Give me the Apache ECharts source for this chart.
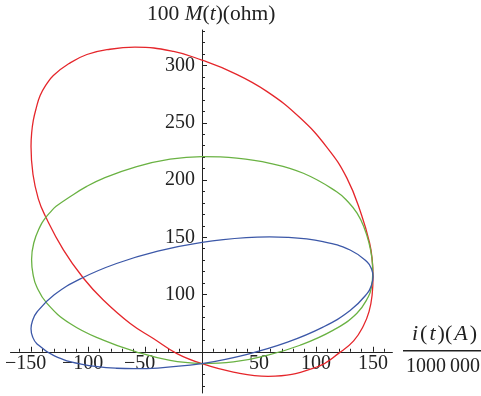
<!DOCTYPE html>
<html><head><meta charset="utf-8">
<script src="https://cdn.jsdelivr.net/npm/echarts@6/dist/echarts.min.js"></script>
<style>html,body{margin:0;padding:0;background:#fff}#c{width:481px;height:396px}</style>
</head><body><div id="c"></div>
<script>
// Loops as [i(t)/1e6, 100 M(t)] pairs
const redLoop = [[0,39.6],[27.5,32.3],[58,28.6],[100.6,36.7],[121,49.5],[133,59.5],[141.5,72.5],[146.5,85],[149.2,99.5],[150,115.6],[149.3,130],[147,145],[140,169.3],[127,201.9],[109.4,228.8],[86,254.3],[56.8,277.4],[27.5,293.6],[0,304.6],[-25,312.3],[-58.8,316],[-80.7,314.2],[-101,309.6],[-117,301.5],[-130.4,291.3],[-137,282.8],[-142,273.8],[-145.5,262.6],[-148,252],[-149.45,241],[-150,229.2],[-148.3,205],[-143.6,183.5],[-137.7,169],[-121.6,139],[-104,114.2],[-86.6,95.2],[-63,74.7],[-42.7,61.6],[-22,48.4],[0,39.6]];
const greenLoop = [[0,39.6],[27.5,41.1],[56.8,46.9],[86,55.7],[115.2,68.9],[135.7,83.5],[145.9,98.1],[148.5,106],[149.8,119],[149,132],[146.5,145],[142,159],[136,171],[128,181],[118.1,189.8],[88.9,205.9],[59.6,214.6],[30.4,219.1],[0,220.4],[-28,218.2],[-57.3,211.7],[-86.6,201.5],[-101.5,194.2],[-115.8,185.4],[-128,177],[-133,172],[-137.7,166.4],[-142,159.5],[-147.6,145],[-149.5,130.5],[-148.3,118],[-145,106.8],[-136,92.3],[-115.8,74.7],[-86.6,60.1],[-57.3,49.8],[-28,42.5],[0,39.6]];
const blueLoop = [[0,39.6],[38.8,47.6],[75,58.4],[106.1,71.5],[129.9,86.0],[144.9,101.0],[148.7,108.4],[150,115.5],[148.7,122.2],[144.9,128.4],[129.9,138.9],[106.1,146.2],[75,149.9],[59.3,150.3],[38.8,149.7],[0,145.6],[-38.8,137.9],[-75,127.1],[-106.1,114.0],[-129.9,99.5],[-144.9,84.5],[-148.7,77.1],[-150,70.0],[-148.7,63.3],[-144.9,57.1],[-129.9,46.6],[-106.1,39.3],[-75,35.6],[-59.3,35.2],[-38.8,35.8],[0,39.6]];
const xTickLabels = [-150,-100,-50,50,100,150];
const yTickLabels = [100,150,200,250,300];
const xMinorTicks = [-160,-140,-130,-120,-110,-90,-80,-70,-60,-40,-30,-20,-10,10,20,30,40,60,70,80,90,110,120,130,140,160];
const yMinorTicks = [20,30,40,60,70,80,90,110,120,130,140,160,170,180,190,210,220,230,240,260,270,280,290,310,320,330];
const yMajorTicks = [50,100,150,200,250,300];

const FONT = '"Liberation Serif", "DejaVu Serif", serif';
const AX = '#222';
const chart = echarts.init(document.getElementById('c'), null, {renderer:'canvas'});
const fmtNum = v => v < 0 ? '{neg|\u2212' + Math.abs(v) + '}' : '{pos|' + v + '}';
const labelStyle = {fontFamily: FONT, fontSize: 20, color: '#222'};
const GL = 10.5, GR = 88.6, GT = 30, GB = 3;
const X0PX = 202, X50PY = 351.75;
const SM = 0.45;
chart.setOption({
  animation: false,
  grid: {left: GL, right: GR, top: GT, bottom: GB, containLabel: false, outerBoundsMode: 'none'},
  xAxis: [{
    type: 'value', min: -168, max: 167, position: 'bottom', offset: -(396 - GB - X50PY),
    axisLine: {onZero: false, lineStyle: {color: AX, width: 1}},
    axisTick: {show: true, inside: true, length: 5, customValues: xTickLabels, lineStyle: {color: AX}},
    axisLabel: {show: true, customValues: xTickLabels, margin: 2, formatter: fmtNum,
      rich: {neg: Object.assign({padding: [0, 11, 0, 0]}, labelStyle), pos: labelStyle}},
    splitLine: {show: false}
  }, {
    type: 'value', min: -168, max: 167, position: 'bottom', offset: -(396 - GB - X50PY),
    axisLine: {show: false, onZero: false},
    axisTick: {show: true, inside: true, length: 3, customValues: xMinorTicks, lineStyle: {color: AX}},
    axisLabel: {show: false}, splitLine: {show: false}
  }],
  yAxis: [{
    type: 'value', min: 14, max: 331, position: 'left', offset: -(X0PX - GL),
    axisLine: {onZero: false, lineStyle: {color: AX, width: 1}},
    axisTick: {show: true, inside: true, length: 5, customValues: yMajorTicks, lineStyle: {color: AX}},
    axisLabel: {show: true, customValues: yTickLabels, margin: 7, fontFamily: FONT, fontSize: 20, color: '#222'},
    splitLine: {show: false}
  }, {
    type: 'value', min: 14, max: 331, position: 'left', offset: -(X0PX - GL),
    axisLine: {show: false, onZero: false},
    axisTick: {show: true, inside: true, length: 3, customValues: yMinorTicks, lineStyle: {color: AX}},
    axisLabel: {show: false}, splitLine: {show: false}
  }],
  graphic: [
    {type: 'text', left: 147, top: 3, style: {
      text: '{a|100 }{i|M}{a|(}{i|t}{a|)(ohm)}',
      rich: {a: {fontFamily: FONT, fontSize: 21.5, fill: '#222'}, i: {fontFamily: FONT, fontSize: 21.5, fontStyle: 'italic', fill: '#222'}}}},
    {type: 'text', left: 412, top: 323, style: {
      text: '{i|i}{a|(}{i|t}{a|)(}{i|A}{a|)}',
      rich: {a: {fontFamily: FONT, fontSize: 22, fill: '#222', padding: [0, 1, 0, 1]}, i: {fontFamily: FONT, fontSize: 22, fontStyle: 'italic', fill: '#222', padding: [0, 1, 0, 1]}}}},
    {type: 'line', shape: {x1: 403, y1: 350.7, x2: 481, y2: 350.7}, style: {stroke: '#222', lineWidth: 1.4}},
    {type: 'text', left: 406, top: 357, style: {text: '1000\u2009000', fontFamily: FONT, fontSize: 20, fill: '#222'}}
  ],
  series: [
    {type: 'line', data: redLoop, xAxisIndex: 0, yAxisIndex: 0, smooth: SM, symbol: 'none', lineStyle: {color: '#e5262b', width: 1.3}, z: 3},
    {type: 'line', data: greenLoop, xAxisIndex: 0, yAxisIndex: 0, smooth: SM, symbol: 'none', lineStyle: {color: '#6ab243', width: 1.3}, z: 3},
    {type: 'line', data: blueLoop, xAxisIndex: 0, yAxisIndex: 0, smooth: SM, symbol: 'none', lineStyle: {color: '#3c58a8', width: 1.3}, z: 3}
  ]
});
</script></body></html>
